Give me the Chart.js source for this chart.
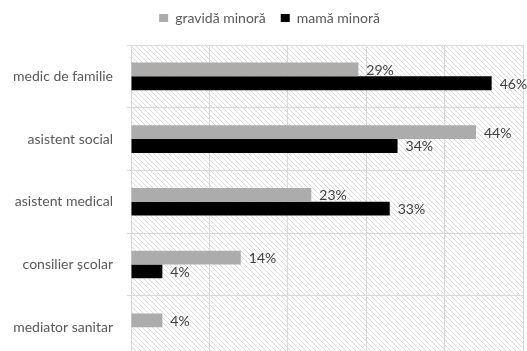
<!DOCTYPE html>
<html>
<head>
<meta charset="utf-8">
<script src="https://cdn.jsdelivr.net/npm/chart.js@4/dist/chart.umd.min.js"></script>
<style>
  html, body { margin: 0; padding: 0; background: #fff; overflow: hidden; }
  #wrap { width: 527px; height: 381px; }
</style>
</head>
<body>
<div id="wrap"><canvas id="chart" width="527" height="381"></canvas></div>
<script>
const categories = ["medic de familie", "asistent social", "asistent medical", "consilier școlar", "mediator sanitar"];
const pregnantMinor = [29, 44, 23, 14, 4];
const motherMinor = [46, 34, 33, 4, null];
const seriesNames = ["gravidă minoră", "mamă minoră"];

const textColor = "#404040";
const font = { family: "Lato, 'Open Sans', sans-serif", size: 14 };

// light diagonal hatching behind the plot
function makeHatch(ctx) {
  const s = 5;
  const c = document.createElement("canvas");
  c.width = s;
  c.height = s;
  const g = c.getContext("2d");
  g.strokeStyle = "#dadada";
  g.lineWidth = 1;
  for (let k = -s; k <= s; k += s) {
    g.beginPath();
    g.moveTo(k, 0);
    g.lineTo(k + s, s);
    g.stroke();
  }
  return ctx.createPattern(c, "repeat");
}

const hatchBackground = {
  id: "hatchBackground",
  beforeDraw(chart) {
    const a = chart.chartArea;
    const ctx = chart.ctx;
    ctx.save();
    ctx.fillStyle = makeHatch(ctx);
    ctx.fillRect(a.left, a.top, a.right - a.left, a.bottom - a.top);
    ctx.restore();
  },
};

// percentage labels after each bar
const barValues = {
  id: "barValues",
  afterDatasetsDraw(chart) {
    const ctx = chart.ctx;
    ctx.save();
    ctx.font = `${font.size}px ${font.family}`;
    ctx.fillStyle = textColor;
    ctx.textAlign = "left";
    ctx.textBaseline = "middle";
    chart.data.datasets.forEach((ds, i) => {
      chart.getDatasetMeta(i).data.forEach((bar, j) => {
        const v = ds.data[j];
        if (v === null) return;
        ctx.fillText(v + "%", bar.x + 8, bar.y + 1);
      });
    });
    ctx.restore();
  },
};

// nudge the legend a bit right and up
const legendNudge = {
  id: "legendNudge",
  afterLayout(chart) {
    const l = chart.legend;
    l.left += 8;
    l.right += 8;
    l.top -= 4;
    l.bottom -= 4;
  },
};

const chart = new Chart(document.getElementById("chart"), {
  type: "bar",
  data: {
    labels: categories,
    datasets: [
      {
        label: seriesNames[0],
        data: pregnantMinor,
        backgroundColor: "#aeabab",
        barPercentage: 1,
        categoryPercentage: 0.44,
      },
      {
        label: seriesNames[1],
        data: motherMinor,
        backgroundColor: "#000000",
        barPercentage: 1,
        categoryPercentage: 0.44,
      },
    ],
  },
  options: {
    indexAxis: "y",
    responsive: false,
    animation: false,
    layout: { padding: { top: 0, right: 4, bottom: 6, left: 0 } },
    scales: {
      x: {
        min: 0,
        max: 50,
        ticks: { stepSize: 10, display: false },
        grid: { color: "#d9d9d9", drawTicks: false },
        border: { display: false },
        afterFit: (scale) => { scale.height = 0; },
      },
      y: {
        ticks: { color: "#595959", font: font, padding: 14 },
        grid: { color: "#d9d9d9", tickLength: 4 },
        border: { color: "#d9d9d9" },
        afterFit: (scale) => { scale.width = 131; },
      },
    },
    plugins: {
      legend: {
        position: "top",
        labels: {
          color: "#595959",
          font: font,
          boxWidth: 9,
          boxHeight: 8,
          padding: 15,
        },
        onClick: null,
      },
      tooltip: { enabled: false },
    },
  },
  plugins: [hatchBackground, barValues, legendNudge],
});

// leave more room between the legend and the plot
const legendFit = chart.legend.fit;
chart.legend.fit = function () {
  legendFit.call(this);
  this.height = 45;
};
chart.update();
</script>
</body>
</html>
